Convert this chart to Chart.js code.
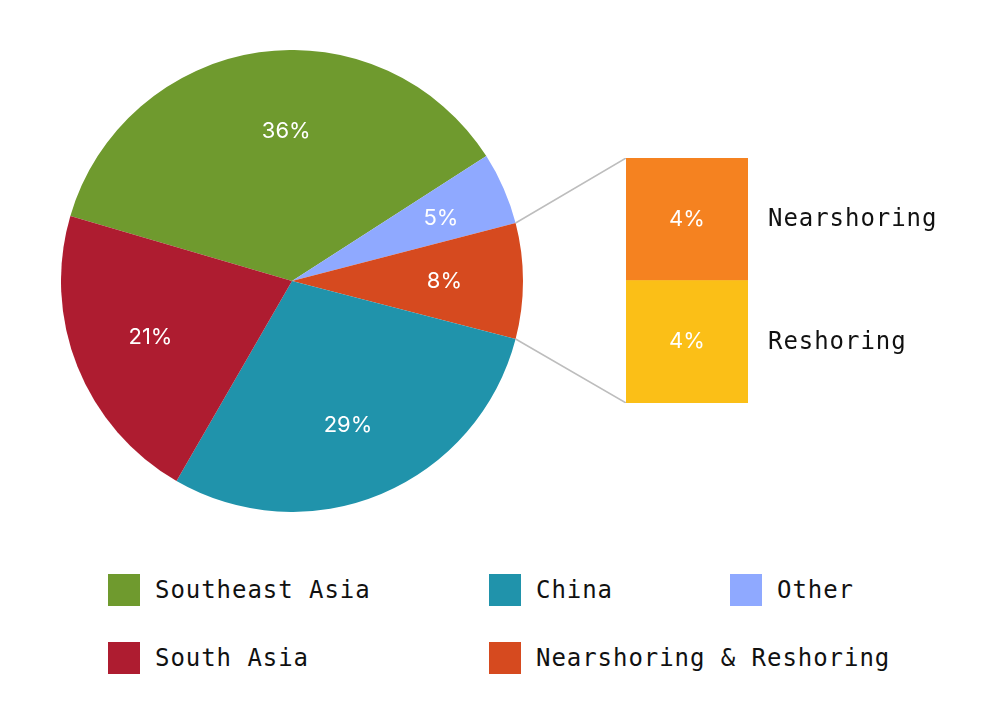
<!DOCTYPE html>
<html>
<head>
<meta charset="utf-8">
<script src="https://cdn.jsdelivr.net/npm/chart.js@4"></script>
<style>
  body { margin: 0; background: #fff; width: 1000px; height: 724px; position: relative; overflow: hidden; }
  #pieBox { position: absolute; left: 61px; top: 50px; width: 462px; height: 462px; }
  #barBox { position: absolute; left: 500px; top: 158px; width: 500px; height: 245px; }
  .legend-item { position: absolute; display: flex; align-items: center; font-family: "DejaVu Sans Mono", monospace; font-size: 24px; letter-spacing: 0.95px; color: #111; white-space: nowrap; }
  .legend-item span.swatch { display: inline-block; width: 32px; height: 32px; margin-right: 15px; }
</style>
</head>
<body>
<div id="pieBox"><canvas id="pieChart"></canvas></div>
<div id="barBox"><canvas id="barChart"></canvas></div>
<div id="legend"></div>
<script>
console.log("index.html Initializing.");

// pie data, clockwise from the left edge
const regions = ['Southeast Asia', 'Other', 'Nearshoring & Reshoring', 'China', 'South Asia'];
const shares = [36, 5, 8, 29, 21];
const regionColors = ['#6f9a2e', '#8fa9ff', '#d64a1f', '#2093ab', '#ae1c30'];

// breakdown of the nearshoring slice (bottom to top)
const splitLabels = ['Reshoring', 'Nearshoring'];
const splitValues = [4, 4];
const splitColors = ['#fbbf17', '#f58220'];

// legend order (rows of three)
const legendOrder = ['Southeast Asia', 'China', 'Other', 'South Asia', 'Nearshoring & Reshoring'];

const total = shares.reduce((a, b) => a + b, 0);
// centre the split slice on 3 o'clock
const splitIdx = 2;
const before = shares.slice(0, splitIdx).reduce((a, b) => a + b, 0) + shares[splitIdx] / 2;
const startRotation = 90 - before / total * 360;

const pieLabels = {
    id: 'pieLabels',
    afterDatasetsDraw(chart, args, opts) {
        const ctx = chart.ctx;
        const meta = chart.getDatasetMeta(0);
        ctx.save();
        ctx.fillStyle = '#fff';
        ctx.font = '22px Inter, "Noto Sans", sans-serif';
        ctx.textAlign = 'center';
        ctx.textBaseline = 'middle';
        meta.data.forEach((arc, i) => {
            // small angle tweak for the big slice, like the original
            const mid = (arc.startAngle + arc.endAngle) / 2 + (opts.angleShift[i] || 0) * Math.PI / 180;
            const r = arc.outerRadius * (opts.radius[i] || 0.66);
            ctx.fillText(shares[i] + '%', arc.x + Math.cos(mid) * r, arc.y + Math.sin(mid) * r);
        });
        ctx.restore();
    }
};

const pieCtx = document.getElementById('pieChart').getContext('2d');
const pieChart = new Chart(pieCtx, {
    type: 'pie',
    data: {
        labels: regions,
        datasets: [{ data: shares, backgroundColor: regionColors, borderWidth: 0 }]
    },
    options: {
        responsive: true,
        maintainAspectRatio: false,
        animation: false,
        rotation: startRotation,
        layout: { padding: 0 },
        plugins: {
            legend: { display: false },
            tooltip: { enabled: false },
            pieLabels: { angleShift: [6, 0.7, 0, 1.5, 0], radius: [0.65, 0.7, 0.66, 0.67, 0.66] }
        }
    },
    plugins: [pieLabels]
});

// connectors + text for the split bar
const barExtras = {
    id: 'barExtras',
    beforeDatasetsDraw(chart) {
        const ctx = chart.ctx;
        const arc = pieChart.getDatasetMeta(0).data[splitIdx];
        const pieRect = pieChart.canvas.getBoundingClientRect();
        const barRect = chart.canvas.getBoundingClientRect();
        const ox = pieRect.left - barRect.left;
        const oy = pieRect.top - barRect.top;
        const area = chart.chartArea;
        const p1 = [ox + arc.x + Math.cos(arc.startAngle) * arc.outerRadius, oy + arc.y + Math.sin(arc.startAngle) * arc.outerRadius];
        const p2 = [ox + arc.x + Math.cos(arc.endAngle) * arc.outerRadius, oy + arc.y + Math.sin(arc.endAngle) * arc.outerRadius];
        ctx.save();
        ctx.strokeStyle = '#bdbdbd';
        ctx.lineWidth = 1.5;
        ctx.beginPath();
        ctx.moveTo(p1[0], p1[1]);
        ctx.lineTo(area.left, area.top);
        ctx.moveTo(p2[0], p2[1]);
        ctx.lineTo(area.left, area.bottom);
        ctx.stroke();
        ctx.restore();
    },
    afterDatasetsDraw(chart) {
        const ctx = chart.ctx;
        ctx.save();
        chart.data.datasets.forEach((ds, i) => {
            const bar = chart.getDatasetMeta(i).data[0];
            const cy = (bar.y + bar.base) / 2;
            ctx.textBaseline = 'middle';
            ctx.fillStyle = '#fff';
            ctx.textAlign = 'center';
            ctx.letterSpacing = '0px';
            ctx.font = '22px Inter, "Noto Sans", sans-serif';
            ctx.fillText(ds.data[0] + '%', bar.x, cy);
            ctx.fillStyle = '#111';
            ctx.textAlign = 'left';
            ctx.letterSpacing = '0.95px';
            ctx.font = '24px "DejaVu Sans Mono", monospace';
            ctx.fillText(ds.label, chart.chartArea.right + 20, cy + 1);
        });
        ctx.restore();
    }
};

const barCtx = document.getElementById('barChart').getContext('2d');
const barChart = new Chart(barCtx, {
    type: 'bar',
    data: {
        labels: ['split'],
        datasets: splitLabels.map((lbl, i) => ({
            label: lbl,
            data: [splitValues[i]],
            backgroundColor: splitColors[i],
            borderWidth: 0,
            barPercentage: 1,
            categoryPercentage: 1
        }))
    },
    options: {
        responsive: true,
        maintainAspectRatio: false,
        animation: false,
        layout: { padding: { left: 126, right: 252, top: 0, bottom: 0 } },
        scales: {
            x: { display: false, stacked: true },
            y: { display: false, stacked: true, min: 0, max: splitValues.reduce((a, b) => a + b, 0) }
        },
        plugins: { legend: { display: false }, tooltip: { enabled: false } }
    },
    plugins: [barExtras]
});

// html legend, 3 columns
const colX = [108, 489, 730];
const rowY = [574, 642];
const legendEl = document.getElementById('legend');
legendOrder.forEach((name, k) => {
    const i = regions.indexOf(name);
    const item = document.createElement('div');
    item.className = 'legend-item';
    item.style.left = colX[k % 3] + 'px';
    item.style.top = rowY[Math.floor(k / 3)] + 'px';
    item.innerHTML = '<span class="swatch" style="background:' + regionColors[i] + '"></span>' + name;
    legendEl.appendChild(item);
});

console.log("index.html Loaded.");
</script>
</body>
</html>
